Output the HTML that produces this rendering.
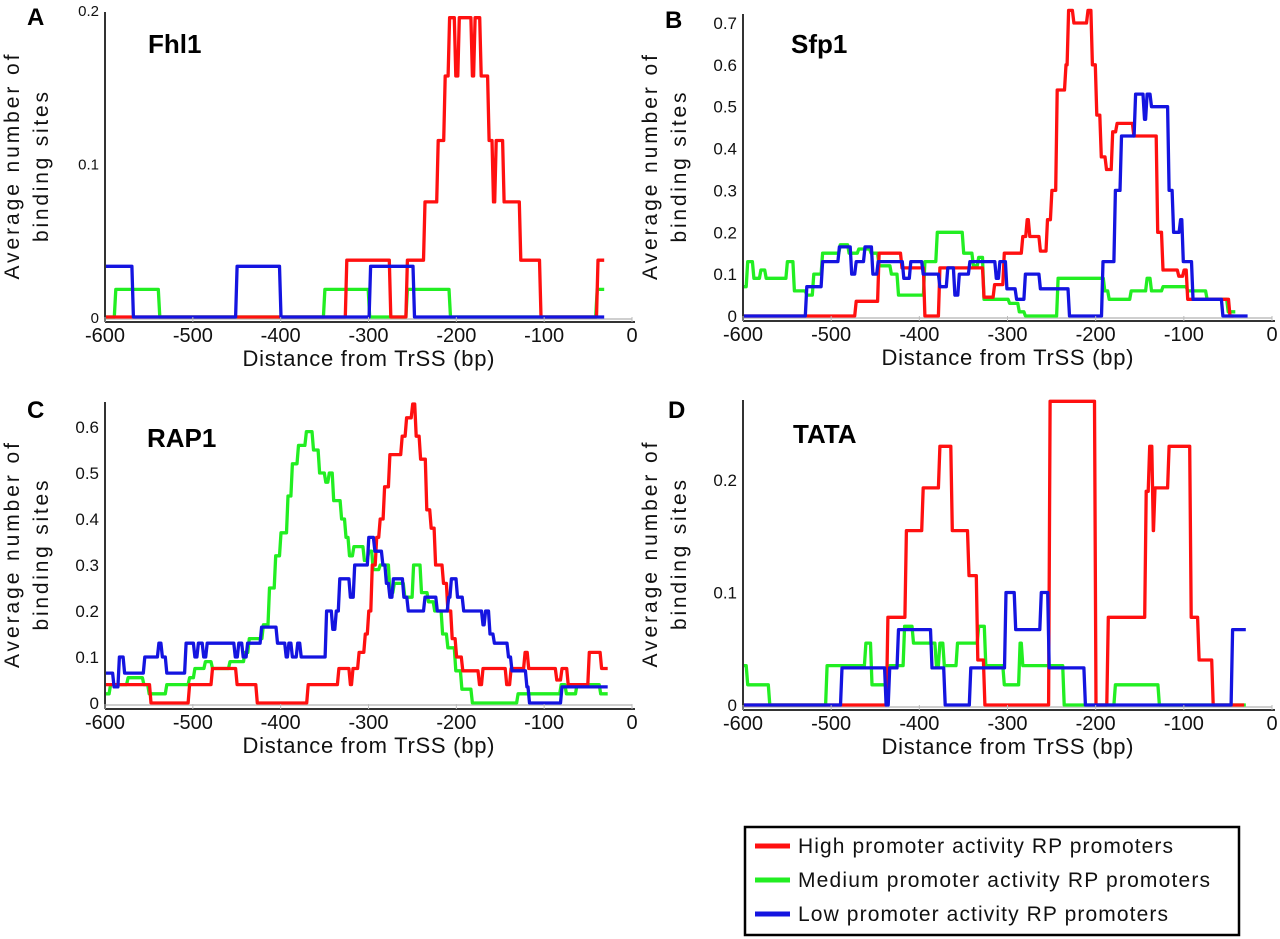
<!DOCTYPE html>
<html><head><meta charset="utf-8"><style>
body{margin:0;background:#fff;}
svg{display:block;font-family:"Liberation Sans",Arial,sans-serif;}
</style></head><body>
<svg id="fig" width="1280" height="939" viewBox="0 0 1280 939"></svg>
<script>
// ---------- data (step series: [start bp, value]; last entry marks end) ----------
const xTicks = [-600,-500,-400,-300,-200,-100,0];
const yTicksA = [0,0.1,0.2];
const yTicksB = [0,0.1,0.2,0.3,0.4,0.5,0.6,0.7];
const yTicksC = [0,0.1,0.2,0.3,0.4,0.5,0.6];
const yTicksD = [0,0.1,0.2];

const redA = [[-600,0],[-325,0.037],[-275,0],[-256,0.037],[-236,0.075],[-221,0.115],[-213,0.157],[-208,0.195],[-201,0.157],[-197,0.195],[-182,0.157],[-179,0.195],[-172,0.157],[-163,0.115],[-158,0.075],[-155,0.115],[-146,0.075],[-127,0.037],[-104,0],[-39,0.037],[-32,0.037]];
const greenA = [[-600,0],[-588,0.018],[-538,0],[-350,0.018],[-299,0],[-256,0.018],[-207,0],[-40,0.018],[-32,0.018]];
const blueA = [[-600,0.033],[-568,0],[-450,0.033],[-400,0],[-298,0.033],[-248,0],[-32,0]];

const redB = [[-600,0],[-472,0.035],[-446,0.15],[-420,0.115],[-394,0],[-377,0.115],[-327,0.045],[-315,0.075],[-304,0.15],[-283,0.19],[-278,0.23],[-275,0.19],[-263,0.155],[-255,0.23],[-250,0.3],[-244,0.54],[-234,0.6],[-231,0.73],[-225,0.7],[-209,0.73],[-204,0.6],[-199,0.48],[-194,0.38],[-188,0.35],[-181,0.44],[-176,0.46],[-157,0.43],[-130,0.2],[-124,0.11],[-106,0.095],[-100,0.11],[-96,0.04],[-48,0],[-44,0]];
const greenB = [[-600,0.07],[-595,0.13],[-588,0.09],[-580,0.11],[-574,0.09],[-550,0.13],[-542,0.06],[-528,0.05],[-520,0.1],[-510,0.15],[-490,0.17],[-480,0.15],[-469,0.16],[-455,0.15],[-446,0.12],[-432,0.1],[-424,0.05],[-394,0.13],[-380,0.2],[-350,0.15],[-339,0.12],[-333,0.14],[-327,0.04],[-298,0.03],[-287,0.01],[-280,0],[-243,0.09],[-190,0.06],[-185,0.04],[-160,0.06],[-142,0.09],[-137,0.06],[-124,0.07],[-96,0.06],[-74,0.04],[-50,0.01],[-42,0.01]];
const blueB = [[-600,0],[-528,0.07],[-510,0.13],[-491,0.165],[-477,0.1],[-472,0.13],[-462,0.165],[-453,0.1],[-447,0.13],[-418,0.09],[-410,0.13],[-396,0.1],[-377,0.07],[-368,0.115],[-360,0.05],[-355,0.1],[-343,0.13],[-313,0.09],[-309,0.13],[-301,0.065],[-290,0.04],[-280,0.1],[-263,0.065],[-230,0],[-192,0.13],[-178,0.3],[-171,0.43],[-155,0.53],[-145,0.47],[-142,0.53],[-137,0.5],[-117,0.3],[-112,0.2],[-104,0.23],[-101,0.13],[-90,0.04],[-56,0],[-28,0]];

const redC = [[-600,0.04],[-548,0],[-504,0.04],[-478,0.075],[-450,0.04],[-427,0],[-369,0.04],[-334,0.075],[-321,0.04],[-318,0.075],[-311,0.11],[-304,0.15],[-300,0.2],[-296,0.3],[-291,0.36],[-287,0.4],[-282,0.47],[-276,0.54],[-262,0.58],[-257,0.62],[-250,0.65],[-246,0.58],[-241,0.53],[-234,0.42],[-229,0.38],[-224,0.3],[-215,0.26],[-210,0.2],[-205,0.14],[-200,0.1],[-193,0.07],[-174,0.04],[-170,0.075],[-143,0.04],[-138,0.075],[-122,0.11],[-118,0.075],[-86,0.05],[-80,0.075],[-73,0.04],[-49,0.11],[-35,0.075],[-28,0.075]];
const greenC = [[-600,0.02],[-594,0.04],[-574,0.055],[-556,0.04],[-550,0.02],[-530,0.04],[-504,0.055],[-498,0.075],[-486,0.09],[-478,0.075],[-458,0.09],[-441,0.11],[-436,0.14],[-420,0.17],[-413,0.25],[-406,0.32],[-400,0.37],[-392,0.45],[-387,0.52],[-380,0.56],[-371,0.59],[-363,0.55],[-356,0.5],[-349,0.48],[-345,0.5],[-340,0.44],[-331,0.4],[-326,0.36],[-322,0.32],[-317,0.34],[-305,0.31],[-300,0.33],[-295,0.29],[-287,0.3],[-276,0.24],[-271,0.26],[-259,0.23],[-249,0.3],[-240,0.24],[-232,0.22],[-225,0.2],[-216,0.15],[-210,0.12],[-201,0.07],[-194,0.03],[-182,0],[-130,0.02],[-81,0.04],[-75,0.02],[-63,0.04],[-36,0.02],[-28,0.02]];
const blueC = [[-600,0.065],[-590,0.035],[-584,0.1],[-578,0.065],[-555,0.1],[-539,0.13],[-535,0.1],[-530,0.065],[-508,0.13],[-498,0.1],[-494,0.13],[-488,0.1],[-484,0.13],[-452,0.1],[-448,0.13],[-443,0.1],[-438,0.13],[-422,0.165],[-404,0.13],[-394,0.1],[-391,0.13],[-387,0.1],[-381,0.13],[-377,0.1],[-348,0.2],[-341,0.16],[-337,0.2],[-333,0.27],[-321,0.23],[-316,0.3],[-300,0.36],[-293,0.33],[-284,0.3],[-280,0.26],[-276,0.23],[-272,0.27],[-260,0.23],[-255,0.2],[-236,0.23],[-222,0.2],[-209,0.23],[-206,0.27],[-199,0.23],[-192,0.2],[-170,0.17],[-167,0.2],[-162,0.15],[-157,0.13],[-141,0.1],[-137,0.07],[-120,0.035],[-117,0],[-80,0.035],[-28,0.035]];

const redD = [[-600,0],[-436,0.078],[-415,0.155],[-396,0.193],[-377,0.23],[-363,0.155],[-344,0.115],[-334,0.04],[-326,0],[-252,0.27],[-200,0],[-186,0.078],[-143,0.19],[-139,0.23],[-135,0.155],[-133,0.193],[-117,0.23],[-92,0.078],[-83,0.04],[-67,0],[-32,0]];
const greenD = [[-600,0.035],[-595,0.018],[-570,0],[-505,0.035],[-461,0.055],[-454,0.018],[-434,0.035],[-417,0.07],[-407,0.055],[-381,0.035],[-377,0.055],[-372,0.035],[-357,0.055],[-333,0.07],[-325,0.035],[-304,0.018],[-286,0.055],[-283,0.035],[-236,0],[-178,0.018],[-128,0],[-30,0]];
const blueD = [[-600,0],[-488,0.033],[-438,0],[-434,0.033],[-424,0.067],[-386,0.033],[-371,0],[-342,0.033],[-302,0.1],[-291,0.067],[-262,0.1],[-253,0.033],[-212,0],[-45,0.067],[-30,0.067]];

// ---------- drawing ----------
const NS = 'http://www.w3.org/2000/svg';
const svg = document.getElementById('fig');
function mk(tag, attrs, parent){
  const e = document.createElementNS(NS, tag);
  for (const k in attrs) e.setAttribute(k, attrs[k]);
  (parent||svg).appendChild(e);
  return e;
}
const COL = {red:'#ff1010', green:'#22ee22', blue:'#1414e0'};

const panels = [
  {id:'a', letter:'A', title:'Fhl1', x0:105, xz:632, y0:317, ppu:1535, top:12, axisY:322, yt:yTicksA, fmt:v=>v===0?'0':v.toFixed(1), yfs:15,
   series:[['green',greenA],['red',redA],['blue',blueA]], lx:27, ly:25, tx:148, ty:53},
  {id:'b', letter:'B', title:'Sfp1', x0:743, xz:1272, y0:316, ppu:418.6, top:14, axisY:321, yt:yTicksB, fmt:v=>v===0?'0':v.toFixed(1), yfs:17,
   series:[['green',greenB],['red',redB],['blue',blueB]], lx:665, ly:28, tx:791, ty:53},
  {id:'c', letter:'C', title:'RAP1', x0:105, xz:632, y0:703, ppu:460, top:402, axisY:709, yt:yTicksC, fmt:v=>v===0?'0':v.toFixed(1), yfs:17,
   series:[['green',greenC],['red',redC],['blue',blueC]], lx:27, ly:418, tx:147, ty:447},
  {id:'d', letter:'D', title:'TATA', x0:743, xz:1272, y0:705, ppu:1125, top:400, axisY:710, yt:yTicksD, fmt:v=>v===0?'0':v.toFixed(1), yfs:17,
   series:[['green',greenD],['red',redD],['blue',blueD]], lx:668, ly:418, tx:793, ty:443}
];

panels.forEach(p=>{
  const g = mk('g', {});
  
  
  const xs = bp => p.x0 + (bp + 600) / 600 * (p.xz - p.x0);
  const ys = v => p.y0 - v * p.ppu;

  const bl = mk('line', {x1:p.x0, y1:p.y0+2, x2:p.xz, y2:p.y0+2, stroke:'#cfcfcf', 'stroke-width':2}, g);
  
  
  p.series.forEach(([c, data])=>{
    let pts = [];
    for (let i=0;i<data.length;i++){
      const [x,v] = data[i];
      if (i>0) pts.push([xs(x)-1.2, ys(data[i-1][1])]);
      pts.push([xs(x)+ (i>0?0.3:0), ys(v)]);
    }
    const pl = mk('polyline', {points: pts.map(q=>q[0].toFixed(1)+','+q[1].toFixed(1)).join(' '),
      fill:'none', stroke:COL[c], 'stroke-width':3.3, 'stroke-linejoin':'round'}, g);
    
    
  });
  const ya = mk('line', {x1:p.x0, y1:p.top, x2:p.x0, y2:p.axisY, stroke:'#333', 'stroke-width':2}, g);
  
  
  const xa = mk('line', {x1:p.x0, y1:p.axisY, x2:p.xz+3, y2:p.axisY, stroke:'#333', 'stroke-width':2}, g);
  
  
  xTicks.forEach(t=>{
    const tk = mk('line', {x1:xs(t), y1:p.axisY-5, x2:xs(t), y2:p.axisY, stroke:'#bbb', 'stroke-width':1}, g);
    
    
    const tl = mk('text', {x:xs(t), y:p.axisY+20, 'font-size':20, 'text-anchor':'middle', fill:'#111'}, g);
    tl.textContent = String(t);
    
    
  });
  p.yt.forEach(t=>{
    const tl = mk('text', {x:p.x0-6, y:ys(t)+6, 'font-size':p.yfs, 'text-anchor':'end', fill:'#111'}, g);
    tl.textContent = p.fmt(t);
    
    
  });
  const xt = mk('text', {x:(p.x0+p.xz)/2, y:p.axisY+44, 'font-size':22, 'text-anchor':'middle', fill:'#111', textLength:252, lengthAdjust:'spacing'}, g);
  xt.textContent = 'Distance from TrSS (bp)';
  
  
  const cy = (p.top + p.axisY)/2;
  const yt1 = mk('text', {x:0, y:0, 'font-size':21, 'text-anchor':'middle', fill:'#111', transform:`translate(${p.x0-86},${cy}) rotate(-90)`, textLength:225, lengthAdjust:'spacing'}, g);
  yt1.textContent = 'Average number of';
  
  
  const yt2 = mk('text', {x:0, y:0, 'font-size':21, 'text-anchor':'middle', fill:'#111', transform:`translate(${p.x0-57},${cy}) rotate(-90)`, textLength:150, lengthAdjust:'spacing'}, g);
  yt2.textContent = 'binding sites';
  
  
  const lt = mk('text', {x:p.lx, y:p.ly, 'font-size':24, 'font-weight':'bold', fill:'#000'}, g);
  lt.textContent = p.letter;
  
  
  const tt = mk('text', {x:p.tx, y:p.ty, 'font-size':26, 'font-weight':'bold', fill:'#000'}, g);
  tt.textContent = p.title;
  
  
});

// legend
const legendLabels = ['High promoter activity RP promoters','Medium promoter activity RP promoters','Low promoter activity RP promoters'];
const legendColors = ['red','green','blue'];
const legendWidths = [375, 412, 370];
const lg = mk('g', {});


const box = mk('rect', {x:745, y:827, width:494, height:108, fill:'#fff', stroke:'#000', 'stroke-width':2.5}, lg);


legendLabels.forEach((lab,i)=>{
  const y = 846 + i*34;
  const sw = mk('line', {x1:755, y1:y, x2:790, y2:y, stroke:COL[legendColors[i]], 'stroke-width':5}, lg);
  
  
  const tx = mk('text', {x:798, y:y+7, 'font-size':21, fill:'#111', textLength:legendWidths[i], lengthAdjust:'spacing'}, lg);
  tx.textContent = lab;
  
  
});
</script>
</body></html>
